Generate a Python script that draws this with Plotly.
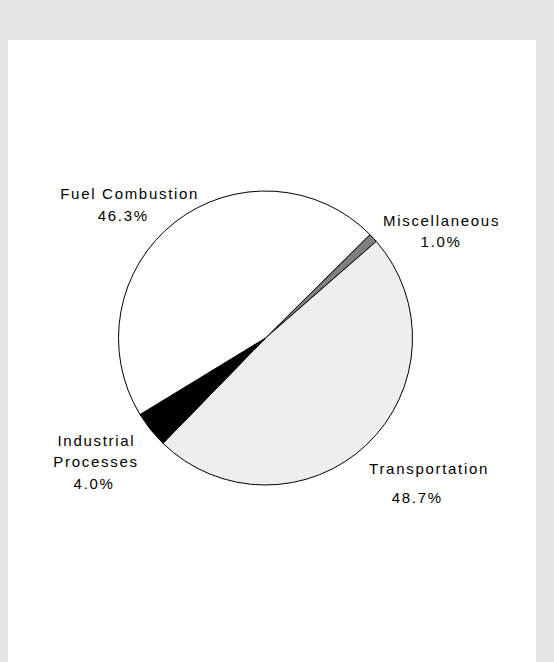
import plotly.graph_objects as go

# Share of emissions by source category (listed clockwise from the upper right)
categories = ["Miscellaneous", "Transportation", "Industrial Processes", "Fuel Combustion"]
shares = [1.0, 48.7, 4.0, 46.3]
slice_colors = ["#808080", "#eeeeee", "#000000", "#ffffff"]

W, H = 554, 662

# Label placement (pixel centres) for the category name lines and the percent line
name_lines = [["Miscellaneous"], ["Transportation"], ["Industrial", "Processes"], ["Fuel Combustion"]]
name_pos = [[(441, 221)], [(429, 468)], [(96, 441), (96, 461)], [(129, 193)]]
pct_pos = [(441, 242), (417, 497), (94, 483), (123, 215)]

cx, cy, r = 265.5, 338, 147

fig = go.Figure(
    go.Pie(
        labels=categories,
        values=shares,
        sort=False,
        direction="clockwise",
        rotation=45.3,
        marker=dict(colors=slice_colors, line=dict(color="#000000", width=1)),
        textinfo="none",
        hoverinfo="label+percent",
        showlegend=False,
        domain=dict(
            x=[(cx - r) / W, (cx + r) / W],
            y=[1 - (cy + r) / H, 1 - (cy - r) / H],
        ),
    )
)

font = dict(family="Liberation Sans, Arial, sans-serif", size=15, color="#000000")
annotations = []
for lines, poss, val, ppos in zip(name_lines, name_pos, shares, pct_pos):
    for txt, (px, py) in zip(lines, poss):
        annotations.append(dict(
            x=px / W, y=1 - py / H, xref="paper", yref="paper",
            text=txt, showarrow=False, xanchor="center", yanchor="middle",
            font=font, align="center",
        ))
    annotations.append(dict(
        x=ppos[0] / W, y=1 - ppos[1] / H, xref="paper", yref="paper",
        text=f"{val:.1f}%", showarrow=False, xanchor="center", yanchor="middle",
        font=font, align="center",
    ))

fig.update_layout(
    width=W,
    height=H,
    margin=dict(l=0, r=0, t=0, b=0),
    paper_bgcolor="#e5e5e5",
    plot_bgcolor="#ffffff",
    annotations=annotations,
    shapes=[dict(
        type="rect", xref="paper", yref="paper",
        x0=8 / W, x1=536 / W, y0=0, y1=1 - 40 / H,
        fillcolor="#ffffff", line=dict(width=0), layer="below",
    )],
)

fig.write_html(
    "out.html",
    config={"displayModeBar": False},
    post_script="document.querySelectorAll('.annotation-text').forEach(function(t){t.style.letterSpacing='1.7px';});",
)
